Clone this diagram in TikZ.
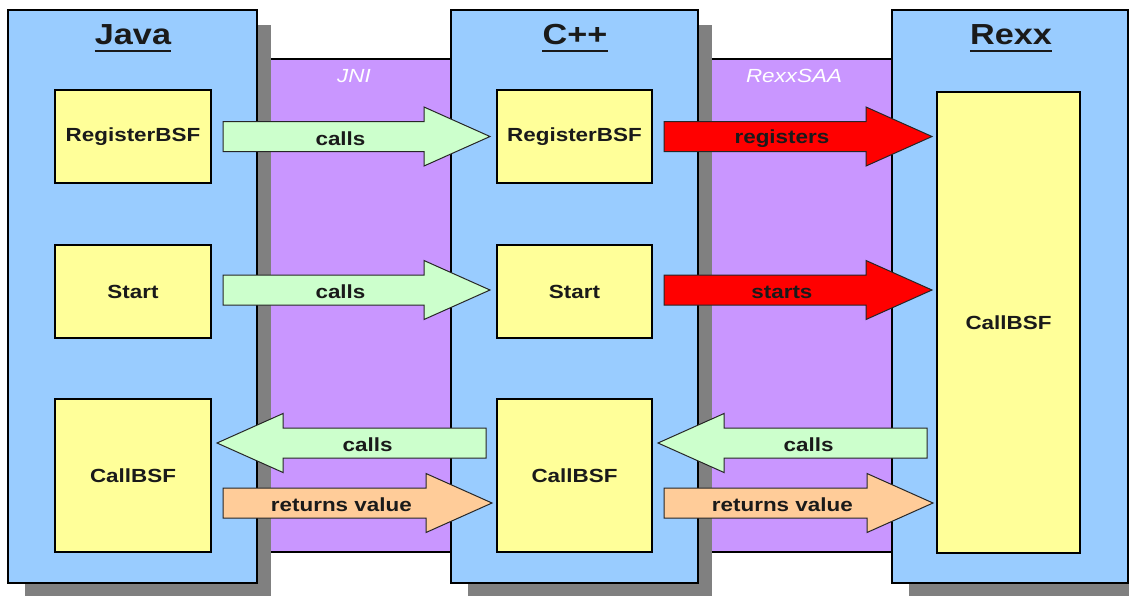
\documentclass[tikz,border=0pt]{standalone}
\usepackage{fontspec}
\setmainfont{Liberation Sans}
\newfontfamily\wfont{Liberation Sans}[FakeStretch=1.18]
\usetikzlibrary{calc}
\definecolor{panelblue}{HTML}{99CCFF}
\definecolor{bandpurple}{HTML}{C996FF}
\definecolor{boxyellow}{HTML}{FFFF99}
\definecolor{callgreen}{HTML}{CCFFCC}
\definecolor{retorange}{HTML}{FFCC99}
\definecolor{regred}{HTML}{FF0000}
\definecolor{shadowgrey}{HTML}{808080}
\definecolor{textdark}{HTML}{1A1A1A}
\newcommand\blockarrow[5]{%
  \draw[arrowline,fill=#3] let \p1=(#1),\p2=(#2),\n1={sign(\x2-\x1)*66} in
    (\x1,{\y1+15pt}) -- ({\x2-\n1*1pt},{\y1+15pt}) -- ({\x2-\n1*1pt},{\y1+29.5pt})
    -- (\x2,\y1) -- ({\x2-\n1*1pt},{\y1-29.5pt}) -- ({\x2-\n1*1pt},{\y1-15pt})
    -- (\x1,{\y1-15pt}) -- cycle;
  \node[alabel] (#5) at ($(#1)!0.44!(#2)+(0,2)$) {#4};}
\begin{document}
\begin{tikzpicture}[x=1pt,y=-1pt,
  panel/.style={draw=black,line width=2pt,fill=panelblue,inner sep=0pt,outer sep=0pt},
  band/.style={draw=black,line width=1.5pt,fill=bandpurple,inner sep=0pt,outer sep=0pt},
  ybox/.style={draw=black,line width=2.5pt,fill=boxyellow,inner sep=0pt,outer sep=0pt,
    text=textdark,font=\wfont\bfseries\fontsize{19}{22}\selectfont},
  title/.style={inner sep=0pt,text=textdark,font=\wfont\bfseries\fontsize{29}{32}\selectfont},
  bandlabel/.style={inner sep=0pt,text=white,font=\wfont\itshape\fontsize{19}{22}\selectfont},
  alabel/.style={inner sep=0pt,text=textdark,font=\wfont\bfseries\fontsize{19}{22}\selectfont},
  arrowline/.style={draw=black!85,line width=1pt,line join=miter},
  shadow/.style={fill=shadowgrey}]
\useasboundingbox (0,0) rectangle (1129,595);
\fill[white] (0,0) rectangle (1129,595);
% bands
\node[band,minimum width=194,minimum height=493] (jni) at (354,305.5) {};
\node[band,minimum width=195,minimum height=493] (saa) at (794.5,305.5) {};
\node[bandlabel] (jnil) at (354,76) {JNI};
\node[bandlabel] (saal) at (794,76) {RexxSAA};
% panels (shadow first)
\fill[shadow] (25,25) rectangle (271,597);
\fill[shadow] (468,25) rectangle (712,597);
\fill[shadow] (909,25) rectangle (1140,597);
\node[panel,minimum width=249,minimum height=573] (java) at (132.5,296.5) {};
\node[panel,minimum width=247,minimum height=573] (cpp) at (574.5,296.5) {};
\node[panel,minimum width=236,minimum height=573] (rexx) at (1010,296.5) {};
% titles
\node[title] (javat) at (133,35) {Java};
\node[title] (cppt) at (575,35) {C++};
\node[title] (rexxt) at (1011,35) {Rexx};
\foreach \t in {javat,cppt,rexxt}
  \draw[line width=2.6pt,textdark] ($(\t.base west)+(0,6)$) -- ($(\t.base east)+(0,6)$);
% boxes
\node[ybox,minimum width=156,minimum height=93] (jreg) at (133,136.5) {RegisterBSF};
\node[ybox,minimum width=156,minimum height=93] (jstart) at (133,291.5) {Start};
\node[ybox,minimum width=156,minimum height=153] (jcall) at (133,475.5) {CallBSF};
\node[ybox,minimum width=155,minimum height=93] (creg) at (574.5,136.5) {RegisterBSF};
\node[ybox,minimum width=155,minimum height=93] (cstart) at (574.5,291.5) {Start};
\node[ybox,minimum width=155,minimum height=153] (ccall) at (574.5,475.5) {CallBSF};
\node[ybox,minimum width=143,minimum height=461] (rcall) at (1008.5,322.5) {CallBSF};
% arrow end points
\coordinate (a1s) at ($(jreg.east)+(12,0)$);
\coordinate (a1e) at ($(creg.west)+(-7,0)$);
\coordinate (b1s) at ($(creg.east)+(12,0)$);
\coordinate (b1e) at ($(rcall.west|-creg.east)+(-5,0)$);
\coordinate (a2s) at ($(jstart.east)+(12,-1.5)$);
\coordinate (a2e) at ($(cstart.west)+(-7,-1.5)$);
\coordinate (b2s) at ($(cstart.east)+(12,-1.5)$);
\coordinate (b2e) at ($(rcall.west|-cstart.east)+(-5,-1.5)$);
\coordinate (a3s) at ($(ccall.west)+(-11,-32.5)$);
\coordinate (a3e) at ($(jcall.east)+(6,-32.5)$);
\coordinate (b3s) at ($(rcall.west|-ccall.east)+(-10,-32.5)$);
\coordinate (b3e) at ($(ccall.east)+(6,-32.5)$);
\coordinate (a4s) at ($(jcall.east)+(12,27.5)$);
\coordinate (a4e) at ($(ccall.west)+(-5,27.5)$);
\coordinate (b4s) at ($(ccall.east)+(12,27.5)$);
\coordinate (b4e) at ($(rcall.west|-ccall.east)+(-4,27.5)$);
% arrows
\blockarrow{a1s}{a1e}{callgreen}{calls}{l1}
\blockarrow{b1s}{b1e}{regred}{registers}{l2}
\blockarrow{a2s}{a2e}{callgreen}{calls}{l3}
\blockarrow{b2s}{b2e}{regred}{starts}{l4}
\blockarrow{a3s}{a3e}{callgreen}{calls}{l5}
\blockarrow{b3s}{b3e}{callgreen}{calls}{l6}
\blockarrow{a4s}{a4e}{retorange}{returns value}{l7}
\blockarrow{b4s}{b4e}{retorange}{returns value}{l8}
\end{tikzpicture}
\end{document}
